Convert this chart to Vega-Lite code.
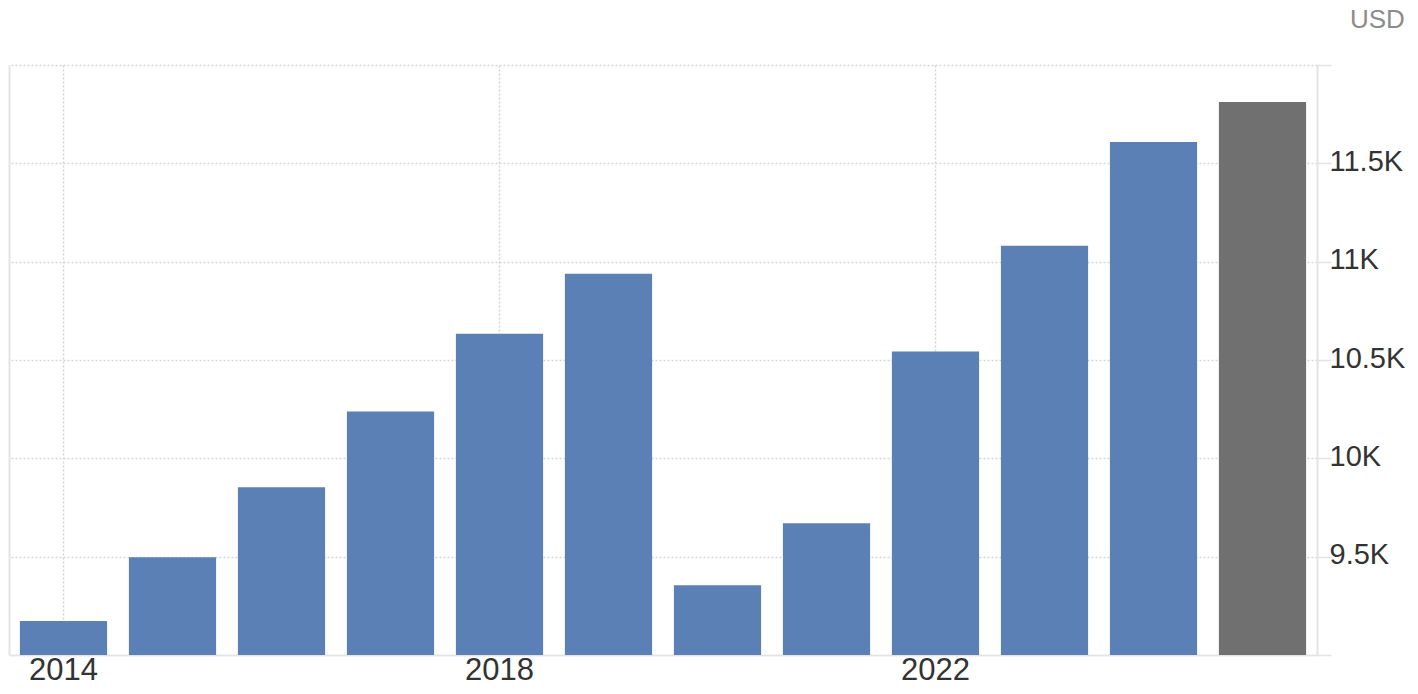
{
  "$schema": "https://vega.github.io/schema/vega-lite/v6.json",
  "width": 1308,
  "height": 590,
  "autosize": {"type": "none"},
  "padding": {"left": 9, "top": 65, "right": 101, "bottom": 39},
  "background": "white",
  "config": {
    "view": {"stroke": null},
    "font": "Liberation Sans"
  },
  "title": {
    "text": "USD",
    "anchor": "end",
    "frame": "bounds",
    "fontSize": 26,
    "fontWeight": "normal",
    "color": "#8c8c8c",
    "font": "Liberation Sans",
    "offset": 31
  },
  "data": {
    "values": [
      {"year": "2014", "value": 9173, "kind": "actual"},
      {"year": "2015", "value": 9497, "kind": "actual"},
      {"year": "2016", "value": 9853, "kind": "actual"},
      {"year": "2017", "value": 10238, "kind": "actual"},
      {"year": "2018", "value": 10634, "kind": "actual"},
      {"year": "2019", "value": 10939, "kind": "actual"},
      {"year": "2020", "value": 9355, "kind": "actual"},
      {"year": "2021", "value": 9670, "kind": "actual"},
      {"year": "2022", "value": 10543, "kind": "actual"},
      {"year": "2023", "value": 11081, "kind": "actual"},
      {"year": "2024", "value": 11609, "kind": "actual"},
      {"year": "2025", "value": 11812, "kind": "forecast"}
    ]
  },
  "resolve": {"axis": {"y": "independent"}},
  "layer": [
    {
      "mark": {"type": "bar", "opacity": 0},
      "encoding": {
        "x": {
          "field": "year", "type": "ordinal",
          "scale": {"paddingInner": 0.2, "paddingOuter": 0.1},
          "axis": {
            "values": ["2014", "2018", "2022"],
            "title": null,
            "labelAngle": 0,
            "labelFontSize": 31,
            "labelColor": "#333333",
            "labelPadding": 0,
            "ticks": false,
            "grid": true,
            "gridColor": "#d6d6d6",
            "gridDash": [2, 2],
            "gridWidth": 1.5,
            "domainColor": "#e3e3e3",
            "domainWidth": 1.5
          }
        },
        "y": {
          "field": "value", "type": "quantitative",
          "scale": {"domain": [9000, 12000], "zero": false, "nice": false},
          "axis": {"orient": "left", "labels": false, "ticks": false, "grid": false,
                   "title": null, "domain": true, "domainColor": "#e3e3e3", "domainWidth": 2}
        }
      }
    },
    {
      "mark": {"type": "bar", "clip": true},
      "encoding": {
        "x": {
          "field": "year", "type": "ordinal",
          "scale": {"paddingInner": 0.2, "paddingOuter": 0.1}
        },
        "y": {
          "field": "value", "type": "quantitative",
          "scale": {"domain": [9000, 12000], "zero": false, "nice": false},
          "axis": {
            "orient": "right",
            "title": null,
            "values": [9000, 9500, 10000, 10500, 11000, 11500, 12000],
            "labelExpr": "datum.value == 9000 || datum.value == 12000 ? '' : (datum.value / 1000) + 'K'",
            "labelFontSize": 29,
            "labelColor": "#333333",
            "labelPadding": -2,
            "labelOffset": -2,
            "tickSize": 14,
            "tickColor": "#e3e3e3",
            "tickWidth": 1.5,
            "grid": true,
            "gridColor": "#d6d6d6",
            "gridDash": [2, 2],
            "gridWidth": 1.5,
            "domainColor": "#e3e3e3",
            "domainWidth": 2
          }
        },
        "color": {
          "field": "kind", "type": "nominal", "legend": null,
          "scale": {"domain": ["actual", "forecast"], "range": ["#5a80b5", "#707070"]}
        }
      }
    }
  ]
}
